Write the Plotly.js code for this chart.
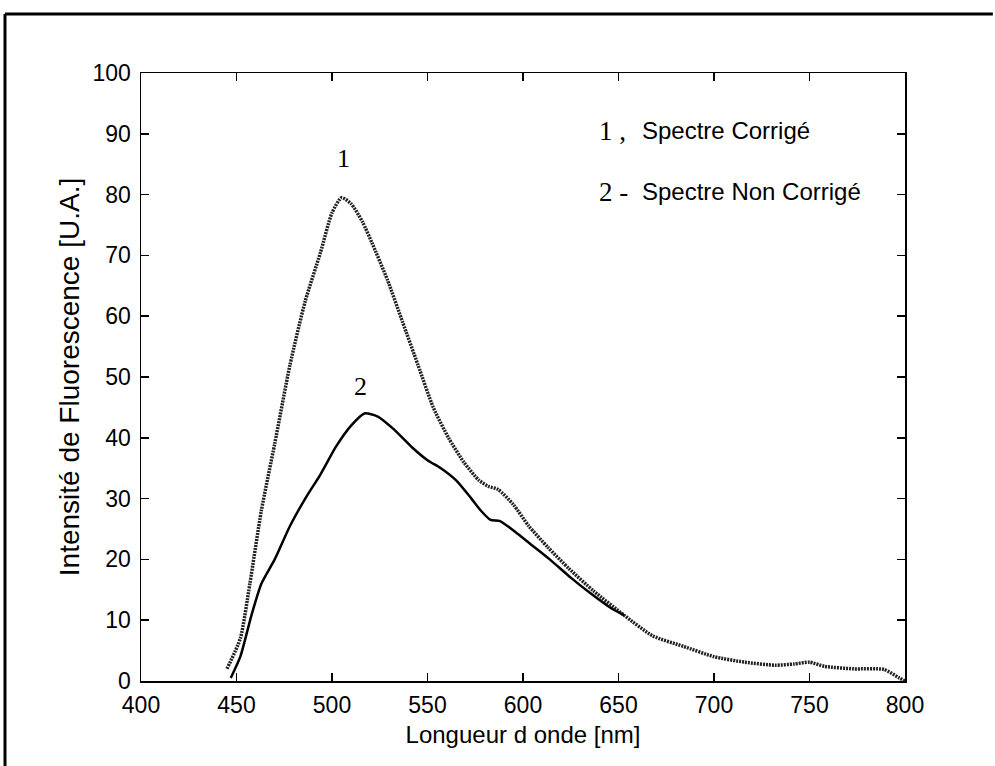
<!DOCTYPE html>
<html>
<head>
<meta charset="utf-8">
<script src="https://cdn.plot.ly/plotly-3.0.1.min.js"></script>
<style>html,body{margin:0;padding:0;background:#fff;}#chart{width:995px;height:766px;}</style>
</head>
<body>
<div id="chart"></div>
<script>
// Spectre 1 : corrigé
const wl1 = [445,452,457,463,470,478,486,494,500,505,510,516,521,529,537,545,553,561,569,577,582,587,595,603,613,624,637,653,668,684,700,716,732,742,750,758,773,789,797,800];
const int1 = [2,7,16,28,39,52,62.5,70.5,77,79.5,78.5,75.5,72,66,59,52,45,40,36,33,32,31.5,29,25.5,22,18.5,14.8,10.8,7.4,5.7,4,3.1,2.6,2.8,3.1,2.4,2,1.9,0.5,0];
// Spectre 2 : non corrigé
const wl2 = [447,452,458,463,470,478,486,494,502,510,517,524,532,542,550,557,565,573,578,583,588,596,604,614,625,635,646,653];
const int2 = [0.5,4,11,16,20,25.5,30,34,38.5,42,44,43.5,41.5,38.4,36.3,35,33,30,28,26.5,26.3,24.5,22.5,20,17,14.5,12,10.8];
const xTicks = [400,450,500,550,600,650,700,750,800];
const yTicks = [0,10,20,30,40,50,60,70,80,90,100];
const xTitle = 'Longueur d onde [nm]';
const yTitle = 'Intensité de Fluorescence [U.A.]';
const legendNums = ['1 ,', '2 -'];
const legendTexts = ['Spectre Corrigé', 'Spectre Non Corrigé'];
const curveLabels = ['1', '2'];

const sans = 'Liberation Sans, Arial, sans-serif';
const serif = 'Liberation Serif, Times New Roman, serif';

const traces = [
  {x: wl1, y: int1, mode: 'lines', line: {color: '#222', width: 3.5, dash: '2px,1px', shape: 'spline', smoothing: 0.6}, hoverinfo: 'skip'},
  {x: wl2, y: int2, mode: 'lines', line: {color: '#000', width: 2.5, shape: 'spline', smoothing: 0.6}, hoverinfo: 'skip'}
];

const axisCommon = {
  showline: true, linecolor: '#000', linewidth: 1.5, mirror: 'allticks',
  ticks: 'inside', ticklen: 8, tickwidth: 1.5, tickcolor: '#000',
  showgrid: false, zeroline: false,
  tickfont: {family: sans, size: 23, color: '#000'}
};

const layout = {
  width: 995, height: 766,
  margin: {l: 141, r: 90, t: 73, b: 85},
  paper_bgcolor: '#fff', plot_bgcolor: '#fff',
  showlegend: false,
  xaxis: Object.assign({}, axisCommon, {
    range: [400, 800], tickvals: xTicks, ticktext: xTicks.map(String),
    ticklabelstandoff: 3,
    title: {text: xTitle, font: {family: sans, size: 24, color: '#000'}, standoff: 9}
  }),
  yaxis: Object.assign({}, axisCommon, {
    range: [0, 100], tickvals: yTicks, ticktext: yTicks.map(String),
    ticklabelstandoff: 4,
    title: {text: yTitle, font: {family: sans, size: 28, color: '#000'}, standoff: 4}
  }),
  annotations: [
    {x: 506, y: 86, xref: 'x', yref: 'y', text: curveLabels[0], showarrow: false, font: {family: serif, size: 26, color: '#000'}},
    {x: 515, y: 48.5, xref: 'x', yref: 'y', text: curveLabels[1], showarrow: false, font: {family: serif, size: 26, color: '#000'}},
    {x: 639, y: 90.5, xref: 'x', yref: 'y', text: legendNums[0], xanchor: 'left', showarrow: false, font: {family: serif, size: 27, color: '#000'}},
    {x: 661, y: 90.5, xref: 'x', yref: 'y', text: legendTexts[0], xanchor: 'left', showarrow: false, font: {family: sans, size: 24, color: '#000'}},
    {x: 639, y: 80.5, xref: 'x', yref: 'y', text: legendNums[1], xanchor: 'left', showarrow: false, font: {family: serif, size: 27, color: '#000'}},
    {x: 661, y: 80.5, xref: 'x', yref: 'y', text: legendTexts[1], xanchor: 'left', showarrow: false, font: {family: sans, size: 24, color: '#000'}}
  ],
  shapes: [
    {type: 'line', xref: 'paper', yref: 'paper', x0: -0.178, x1: -0.178, y0: 1.097, y1: -0.16, line: {color: '#000', width: 3}},
    {type: 'line', xref: 'paper', yref: 'paper', x0: -0.178, x1: 1.115, y0: 1.097, y1: 1.097, line: {color: '#000', width: 3}}
  ]
};

Plotly.newPlot('chart', traces, layout, {staticPlot: true, displayModeBar: false});
</script>
</body>
</html>
